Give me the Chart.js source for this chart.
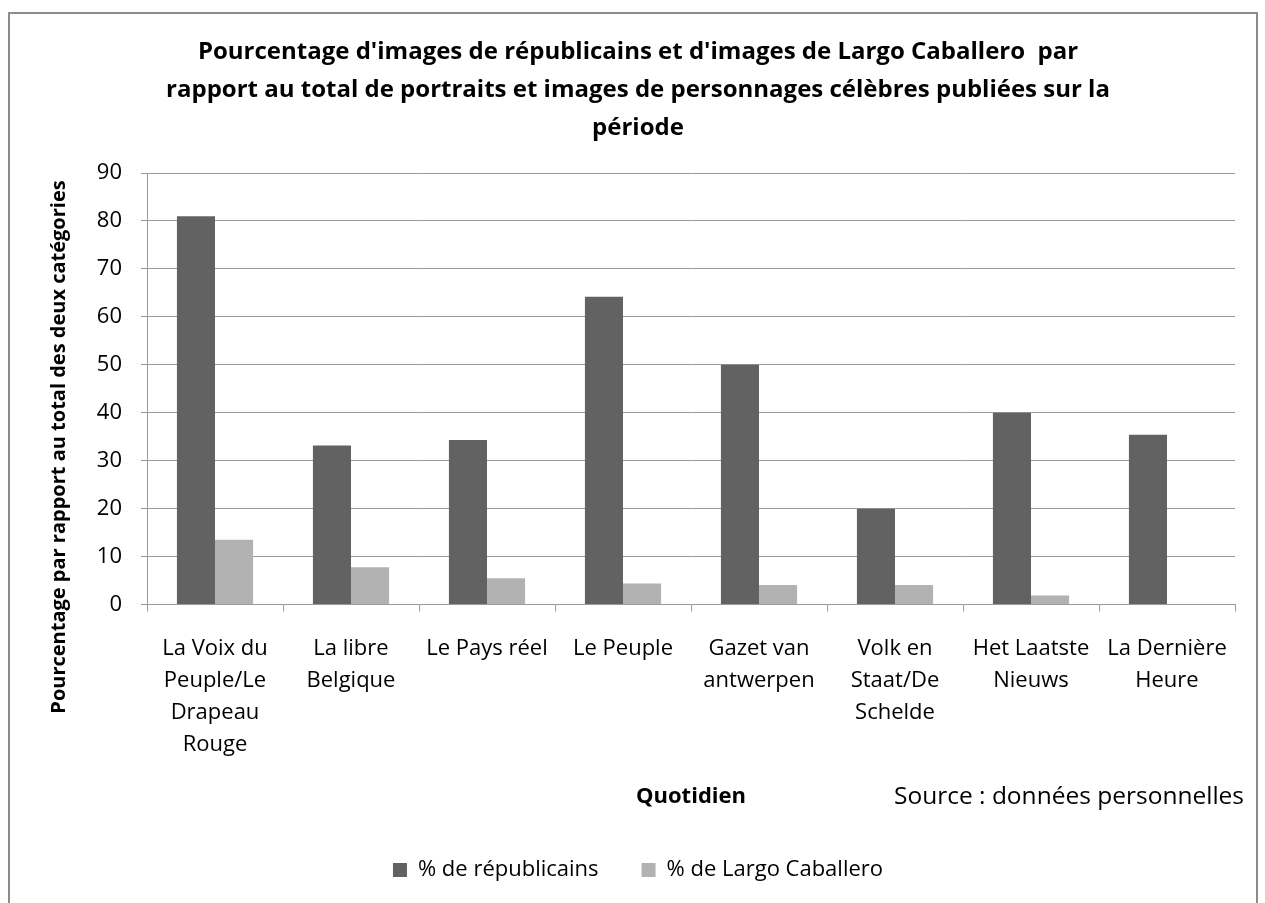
<!DOCTYPE html>
<html lang="fr">
<head>
    <meta charset="UTF-8">
    <title>Pourcentage d'images de républicains et de Largo Caballero</title>
    <script src="https://cdn.jsdelivr.net/npm/chart.js"></script>
    <style>
        body {
            margin: 0;
            padding: 0;
            background: #ffffff;
        }
        #wrap {
            width: 1265px;
            height: 903px;
        }
    </style>
</head>
<body>
    <div id="wrap">
        <canvas id="graphique"></canvas>
    </div>

    <script>
        // Données
        const quotidiens = [
            ['La Voix du', 'Peuple/Le', 'Drapeau', 'Rouge'],
            ['La libre', 'Belgique'],
            ['Le Pays réel'],
            ['Le Peuple'],
            ['Gazet van', 'antwerpen'],
            ['Volk en', 'Staat/De', 'Schelde'],
            ['Het Laatste', 'Nieuws'],
            ['La Dernière', 'Heure']
        ];
        const republicains = [81, 33.2, 34.3, 64.2, 50, 20, 40, 35.4];
        const largoCaballero = [13.5, 7.8, 5.5, 4.4, 4.1, 4.1, 1.9, 0];
        const titreLignes = [
            "Pourcentage d'images de républicains et d'images de Largo Caballero  par",
            "rapport au total de portraits et images de personnages célèbres publiées sur la",
            "période"
        ];
        const titreY = 'Pourcentage par rapport au total des deux catégories';
        const titreX = 'Quotidien';
        const source = 'Source : données personnelles';

        const police = "'Open Sans', 'Liberation Sans', sans-serif";
        Chart.defaults.font.family = police;
        Chart.defaults.color = '#000000';

        // Cadre, titre vertical et source dessinés à la main
        const decor = {
            id: 'decor',
            beforeDraw(chart) {
                const ctx = chart.ctx;
                ctx.save();
                ctx.strokeStyle = '#8c8c8c';
                ctx.lineWidth = 2;
                ctx.strokeRect(9, 13, 1248, 910);
                ctx.restore();
            },
            afterDraw(chart) {
                const ctx = chart.ctx;
                ctx.save();
                ctx.fillStyle = '#000000';
                ctx.font = 'bold 20px ' + police;
                ctx.textAlign = 'center';
                ctx.textBaseline = 'middle';
                ctx.translate(59, 447);
                ctx.rotate(-Math.PI / 2);
                ctx.fillText(titreY, 0, 0);
                ctx.restore();

                ctx.save();
                ctx.fillStyle = '#000000';
                ctx.font = '24.5px ' + police;
                ctx.textAlign = 'right';
                ctx.textBaseline = 'middle';
                ctx.fillText(source, 1244, 797);
                ctx.restore();
            }
        };

        const ctx = document.getElementById('graphique').getContext('2d');
        new Chart(ctx, {
            type: 'bar',
            data: {
                labels: quotidiens,
                datasets: [{
                    label: '% de républicains',
                    data: republicains,
                    backgroundColor: '#626262',
                    categoryPercentage: 0.56,
                    barPercentage: 1
                }, {
                    label: '% de Largo Caballero',
                    data: largoCaballero,
                    backgroundColor: '#b2b2b2',
                    categoryPercentage: 0.56,
                    barPercentage: 1
                }]
            },
            options: {
                responsive: true,
                maintainAspectRatio: false,
                animation: false,
                layout: {
                    padding: { left: 41, right: 30, top: 0, bottom: 12 }
                },
                plugins: {
                    title: {
                        display: true,
                        text: titreLignes,
                        font: { size: 24, weight: 'bold', lineHeight: 38 / 24 },
                        padding: { top: 33, bottom: 26 }
                    },
                    legend: {
                        position: 'bottom',
                        labels: {
                            boxWidth: 14,
                            boxHeight: 14,
                            padding: 43,
                            font: { size: 22 }
                        }
                    },
                    tooltip: { enabled: false }
                },
                scales: {
                    x: {
                        grid: {
                            offset: true,
                            drawOnChartArea: false,
                            tickLength: 7,
                            color: '#9a9a9a'
                        },
                        border: { color: '#9a9a9a' },
                        ticks: {
                            autoSkip: false,
                            maxRotation: 0,
                            padding: 21,
                            font: { size: 22, lineHeight: 32 / 22 }
                        },
                        title: {
                            display: true,
                            text: titreX,
                            font: { size: 22, weight: 'bold', lineHeight: 1.2 },
                            padding: { top: 2, bottom: 6 }
                        }
                    },
                    y: {
                        min: 0,
                        max: 90,
                        afterFit(scale) {
                            scale.width = 106;
                        },
                        grid: {
                            color: '#9a9a9a',
                            tickLength: 6
                        },
                        border: { color: '#9a9a9a' },
                        ticks: {
                            stepSize: 10,
                            padding: 19,
                            font: { size: 22 }
                        }
                    }
                }
            },
            plugins: [decor]
        });
    </script>
</body>
</html>
